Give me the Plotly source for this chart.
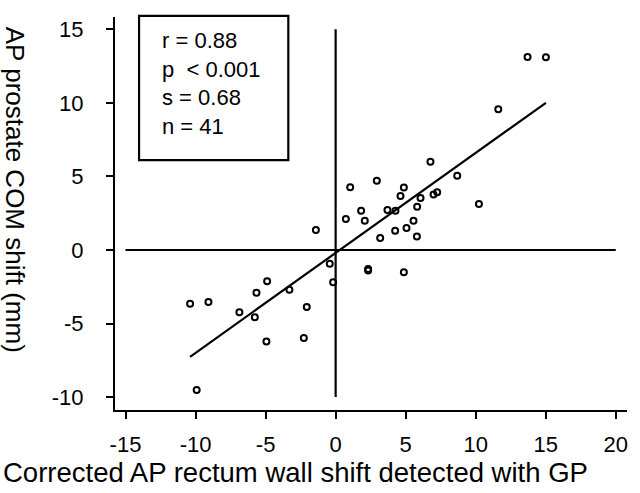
import numpy as np
import plotly.graph_objects as go

# Corrected AP rectum wall shift (x, mm) vs AP prostate COM shift (y, mm)
rectum_shift = [
    -1.41, 1.04, 0.73, 1.82, 2.08, 2.94, 3.18, 3.70, 4.27, 4.25,
    4.63, 4.87, 5.06, 5.56, 5.82, 5.80, 6.06, 6.77, 6.99, 7.25,
    8.68, -0.42, 2.32, 2.32, 4.87, 13.70, 15.01, 11.61, 10.23,
    -10.39, -9.08, -6.87, -5.65, -4.89, -5.77, -4.94, -3.30, -2.06,
    -2.27, -9.92, -0.18,
]
prostate_shift = [
    1.36, 4.26, 2.11, 2.67, 1.99, 4.71, 0.82, 2.72, 2.67, 1.31,
    3.67, 4.24, 1.50, 1.99, 2.94, 0.91, 3.53, 6.00, 3.78, 3.92,
    5.05, -0.93, -1.30, -1.40, -1.52, 13.12, 13.10, 9.56, 3.13,
    -3.65, -3.54, -4.24, -2.90, -2.13, -4.58, -6.23, -2.70, -3.87,
    -5.98, -9.52, -2.20,
]

# Regression statistics shown in the inset box
r_value = "0.88"
p_value = "0.001"
slope = 0.68
intercept = -0.2
n_points = len(rectum_shift)

x_ticks = [-15, -10, -5, 0, 5, 10, 15, 20]
x_tick_text = ["-15", "-10", "-5", "0", "5", "10", "15", "20"]
y_ticks = [-10, -5, 0, 5, 10, 15]
y_tick_text = ["-10", "-5", "0", "5", "10", "15"]

x_title = "Corrected AP rectum wall shift detected with GP"
y_title = "AP prostate COM shift (mm)"

fit_x = np.array([min(rectum_shift), max(rectum_shift)])
fit_y = slope * fit_x + intercept

fig = go.Figure()

fig.add_trace(go.Scatter(
    x=rectum_shift, y=prostate_shift, mode="markers",
    marker=dict(symbol="circle-open", size=6, color="black",
                line=dict(width=2, color="black")),
    hoverinfo="x+y", showlegend=False,
))

fig.add_trace(go.Scatter(
    x=fit_x, y=fit_y, mode="lines",
    line=dict(color="black", width=2.2),
    hoverinfo="skip", showlegend=False,
))

# zero reference lines
fig.add_shape(type="line", xref="x", yref="y",
              x0=x_ticks[0], x1=x_ticks[-1], y0=0, y1=0,
              line=dict(color="black", width=2.2))
fig.add_shape(type="line", xref="x", yref="y",
              x0=0, x1=0, y0=y_ticks[0], y1=y_ticks[-1],
              line=dict(color="black", width=2.2))

# inset statistics box
fig.add_shape(type="rect", xref="paper", yref="paper",
              x0=0.047, x1=0.3385, y0=0.636, y1=1.003,
              line=dict(color="black", width=2.2), fillcolor="rgba(0,0,0,0)")
fig.add_annotation(
    xref="paper", yref="paper", x=0.087, y=0.832,
    xanchor="left", yanchor="middle", align="left", showarrow=False,
    text=(f"r = {r_value}<br>p  &lt; {p_value}<br>"
          f"s = {slope:.2f}<br>n = {n_points}"),
    font=dict(size=22, color="black"),
)

# axis titles
fig.add_annotation(
    xref="paper", yref="paper", x=0.353, y=-0.158,
    xanchor="center", yanchor="middle", showarrow=False,
    text=x_title, font=dict(size=27.5, color="black"),
)
fig.add_annotation(
    xref="paper", yref="paper", x=-0.195, y=0.56,
    xanchor="center", yanchor="middle", showarrow=False, textangle=90,
    text=y_title, font=dict(size=26, color="black"),
)

font_family = "Liberation Sans, Arial, sans-serif"

fig.update_layout(
    width=640, height=493,
    margin=dict(l=115, r=13, t=17, b=83, autoexpand=False),
    paper_bgcolor="white", plot_bgcolor="white",
    font=dict(family=font_family, color="black"),
    xaxis=dict(
        range=[-15.75, 20.8], tickvals=x_ticks, ticktext=x_tick_text,
        ticks="outside", ticklen=7, tickwidth=2, tickcolor="black",
        showline=True, linewidth=2.2, linecolor="black",
        showgrid=False, zeroline=False, automargin=False,
        tickfont=dict(size=22), ticklabelstandoff=6,
    ),
    yaxis=dict(
        range=[-10.88, 15.84], tickvals=y_ticks, ticktext=y_tick_text,
        ticks="outside", ticklen=7, tickwidth=2, tickcolor="black",
        showline=True, linewidth=2.2, linecolor="black",
        showgrid=False, zeroline=False, automargin=False,
        tickfont=dict(size=22), ticklabelstandoff=18,
    ),
)

fig.write_html("out.html")
